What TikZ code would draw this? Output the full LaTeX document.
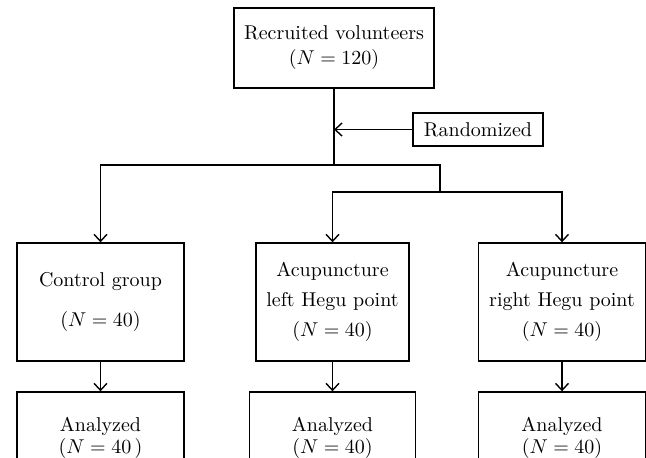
\documentclass[tikz,border=0pt]{standalone}
\usetikzlibrary{arrows.meta}
\begin{document}
\begin{tikzpicture}[
	x=0.5pt, y=-0.5pt,
	box/.style={ draw, line width=0.7pt, align=center, inner sep=0pt, font=\fontsize{10}{12.5}\selectfont },
	conn/.style={ line width=0.7pt },
	arr/.style={ line width=0.7pt, -{Straight Barb[length=3.5pt,width=6.5pt]} }
]
\useasboundingbox (0,0) rectangle (646,457);

% recruitment and randomization
\node at (334,48) (recr) [box,minimum width=100pt,minimum height=40pt] {Recruited volunteers\\($N = 120$)};
\node at (478,129.5) (rand) [box,minimum width=65pt,minimum height=16.5pt] {Randomized};

% groups
\node at (100.5,302) (g1) [box,minimum width=83.5pt,minimum height=59pt] {Control group\\[7.5pt]($N = 40$)};
\node at (332.5,302) (g2) [box,minimum width=76.5pt,minimum height=59pt] {Acupuncture\\[2.5pt]left Hegu point\\[2.5pt]($N = 40$)};
\node at (562,302) (g3) [box,minimum width=83.5pt,minimum height=59pt] {Acupuncture\\[2.5pt]right Hegu point\\[2.5pt]($N = 40$)};

% analysis
\node at (100.5,438) (a1) [box,minimum width=83.5pt,minimum height=46pt] {Analyzed\\[-1.5pt]($N = 40$\,)};
\node at (332.5,438) (a2) [box,minimum width=83pt,minimum height=46pt] {Analyzed\\[-1.5pt]($N = 40$)};
\node at (562,438) (a3) [box,minimum width=83.5pt,minimum height=46pt] {Analyzed\\[-1.5pt]($N = 40$)};

% connectors
\coordinate (split) at (334,165);
\coordinate (rj) at (rand.west -| split);
\coordinate (sub) at (440,192);
\draw[conn] (recr.south) -- (split);
\draw[arr] (rand.west) -- (rj);
\draw[arr] (split) -| (g1.north);
\draw[conn] (split) -| (sub);
\foreach \g in {g2,g3} \draw[arr] (sub) -| (\g.north);
\foreach \i in {1,2,3} \draw[arr] (g\i.south) -- (a\i.north);

\end{tikzpicture}
\end{document}
